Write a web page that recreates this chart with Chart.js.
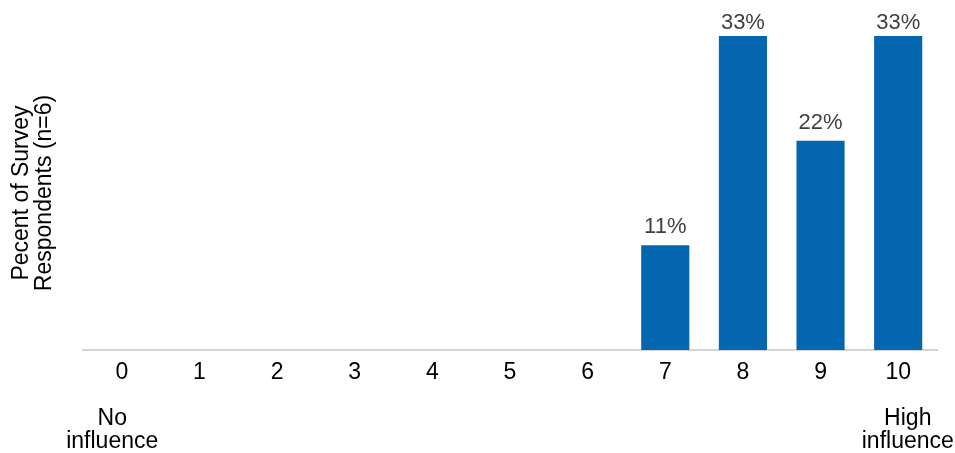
<!DOCTYPE html>
<html>
<head>
<meta charset="utf-8">
<script src="https://cdn.jsdelivr.net/npm/chart.js@4"></script>
<style>
  html, body { margin: 0; padding: 0; background: #fff; }
  #wrap { width: 955px; height: 453px; }
</style>
</head>
<body>
<div id="wrap"><canvas id="myChart" width="955" height="453"></canvas></div>
<script>
// influence scale 0..10
const scores = ['0', '1', '2', '3', '4', '5', '6', '7', '8', '9', '10'];
const percents = [0, 0, 0, 0, 0, 0, 0, 11, 33, 22, 33];
const lowLabel = ['No', 'influence'];
const highLabel = ['High', 'influence'];
const yTitle = ['Pecent of Survey', 'Respondents (n=6)'];

const FONT = 'Helvetica, "Liberation Sans", Arial, sans-serif';

// value labels above each non-zero bar
const barLabels = {
    id: 'barLabels',
    afterDatasetsDraw(chart) {
        const ctx = chart.ctx;
        const meta = chart.getDatasetMeta(0);
        ctx.save();
        ctx.font = '22px ' + FONT;
        ctx.fillStyle = '#3f3f3f';
        ctx.textAlign = 'center';
        ctx.textBaseline = 'alphabetic';
        meta.data.forEach((bar, i) => {
            const v = percents[i];
            if (!v) return;
            const y = Math.max(bar.y - 12, 29);
            ctx.fillText(v + '%', bar.x, y);
        });
        ctx.restore();
    }
};

const tickLabels = scores.map((s, i) => {
    if (i === 0) return [s, '', lowLabel[0] + '   ', lowLabel[1] + '   '];
    if (i === scores.length - 1) return [s, '', '   ' + highLabel[0], '   ' + highLabel[1]];
    return s;
});

const data = {
    labels: tickLabels,
    datasets: [{
        data: percents,
        backgroundColor: '#0366ae',
        borderWidth: 0,
        barPercentage: 0.62,
        categoryPercentage: 1.0,
    }]
};

const config = {
    type: 'bar',
    data: data,
    options: {
        responsive: false,
        animation: false,
        layout: {
            padding: { top: 36, right: 18, left: 10, bottom: 4 }
        },
        plugins: {
            legend: { display: false },
            tooltip: { enabled: false },
        },
        scales: {
            x: {
                grid: { display: false, drawTicks: false },
                border: { display: true, color: '#d4d4d4', width: 2 },
                ticks: {
                    color: '#000',
                    padding: 11,
                    maxRotation: 0,
                    autoSkip: false,
                    font: { family: FONT, size: 23, lineHeight: 1.0 },
                },
                // long end labels may hang past the plot edges
                afterFit(scale) {
                    scale.height = 99;
                    scale.paddingLeft = 0;
                    scale.paddingRight = 0;
                },
            },
            y: {
                min: 0,
                max: 33,
                grid: { display: false, drawTicks: false },
                border: { display: false },
                ticks: { display: false },
                title: {
                    display: true,
                    text: yTitle,
                    color: '#000',
                    font: { family: FONT, size: 23, lineHeight: 1.0 },
                    padding: { top: 0, bottom: 0 },
                },
                afterFit(scale) { scale.width = 73; },
            }
        }
    },
    plugins: [barLabels],
};

const myChart = new Chart(document.getElementById('myChart'), config);
</script>
</body>
</html>
